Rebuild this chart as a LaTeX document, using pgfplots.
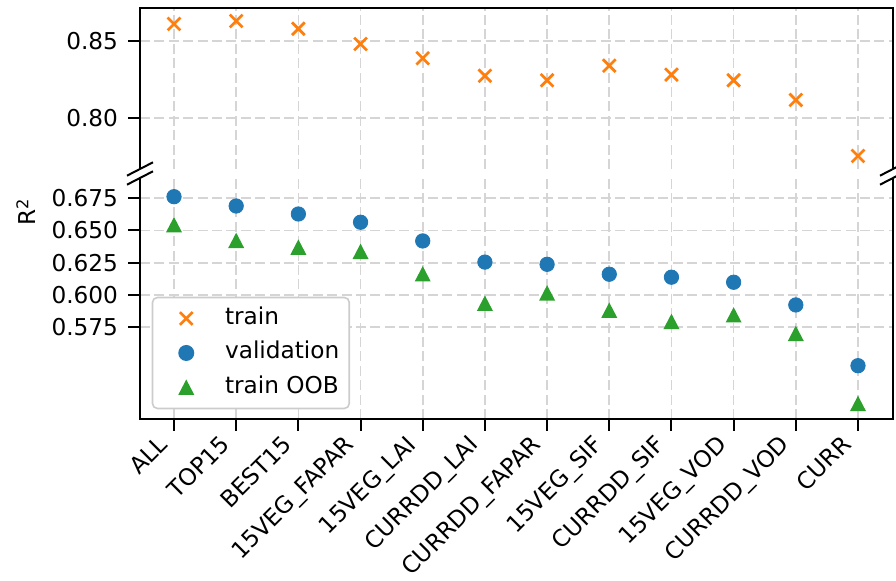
\documentclass[border=0pt]{standalone}
\usepackage{fontspec}
\setmainfont{DejaVu Sans}[Scale=1.16]
\usepackage{pgfplots}
\usepackage{pgfplotstable}
\pgfplotsset{compat=1.18}
\definecolor{cOrange}{HTML}{FF7F0E}
\definecolor{cBlue}{HTML}{1F77B4}
\definecolor{cGreen}{HTML}{2CA02C}
\definecolor{gridc}{HTML}{D5D5D5}
\definecolor{legc}{HTML}{CCCCCC}
\pgfdeclareplotmark{mtri}{%
  \pgfpathmoveto{\pgfqpoint{0pt}{\pgfplotmarksize}}%
  \pgfpathlineto{\pgfqpoint{-\pgfplotmarksize}{-0.92\pgfplotmarksize}}%
  \pgfpathlineto{\pgfqpoint{\pgfplotmarksize}{-0.92\pgfplotmarksize}}%
  \pgfpathclose\pgfusepathqfill}

\pgfplotstableread{
x train val oob
0  0.8608 0.6762 0.6543
1  0.8627 0.6690 0.6421
2  0.8577 0.6628 0.6369
3  0.8479 0.6564 0.6336
4  0.8387 0.6419 0.6162
5  0.8274 0.6255 0.5934
6  0.8245 0.6238 0.6014
7  0.8339 0.6161 0.5880
8  0.8281 0.6138 0.5793
9  0.8245 0.6099 0.5844
10 0.8118 0.5923 0.5700
11 0.7757 0.5452 0.5157
}\data

\begin{document}
\begin{tikzpicture}
\pgfplotsset{common/.style={
  scale only axis, width=376.5pt,
  xmin=-0.547, xmax=11.563, xtick={0,...,11},
  grid=major,
  major grid style={gridc, line width=0.8pt, dash pattern=on 5pt off 2.2pt},
  axis line style={draw=none},
  tick align=outside, ytick pos=left,
  major tick length=6pt,
  every tick/.style={black, line width=1pt},
  yticklabel style={anchor=east, inner sep=0pt, xshift=-4.8pt},
  clip=false,
}}
% top axis
\begin{axis}[common, at={(70pt,206pt)}, anchor=south west, height=80.5pt,
  ymin=0.7673, ymax=0.8711, ytick={0.80,0.85}, yticklabels={0.80,0.85},
  xticklabels={}, xtick style={draw=none}]
\addplot[only marks, mark=x, mark size=4.5pt, mark options={line width=1.35pt}, cOrange] table[x=x,y=train]{\data};
\draw[black, line width=1pt] (rel axis cs:0,0) -- (rel axis cs:0,1) -- (rel axis cs:1,1) -- (rel axis cs:1,0);
\draw[black, line width=1pt] (rel axis cs:0,0) ++(-6.5pt,-3.35pt) -- ++(13pt,6.7pt);
\draw[black, line width=1pt] (rel axis cs:1,0) ++(-6.5pt,-3.35pt) -- ++(13pt,6.7pt);
\end{axis}
% bottom axis
\begin{axis}[common, at={(70pt,81pt)}, anchor=south west, height=120.5pt,
  ymin=0.5039, ymax=0.6907,
  ytick={0.575,0.600,0.625,0.650,0.675},
  yticklabels={0.575,0.600,0.625,0.650,0.675},
  xtick pos=left,
  xticklabels={ALL,TOP15,BEST15,15VEG\_FAPAR,15VEG\_LAI,CURRDD\_LAI,CURRDD\_FAPAR,15VEG\_SIF,CURRDD\_SIF,15VEG\_VOD,CURRDD\_VOD,CURR},
  xticklabel style={rotate=45, anchor=north east, inner sep=0pt, text height=0.76em, text depth=0.21em, xshift=-7pt, yshift=5.5pt},
  legend cell align=left,
  legend style={at={(0.0155,0.5075)}, anchor=north west, draw=legc, line width=0.8pt,
    rounded corners=2.5pt, fill=white,
    inner xsep=5pt, inner ysep=5pt, row sep=6.25pt,
    nodes={inner sep=0pt, text height=8.5pt, text depth=2.5pt}},
  legend image code/.code={\path (0pt,0pt) (22pt,0pt); \draw[#1] plot coordinates {(11.5pt,0pt)};},
  ]
\addlegendimage{only marks, mark=x, mark size=4.5pt, mark options={line width=1.35pt}, cOrange}
\addlegendentry{\hspace{8.5pt}train}
\addplot[only marks, mark=*, mark size=3.6pt, cBlue] table[x=x,y=val]{\data};
\addlegendentry{\hspace{8.5pt}validation}
\addplot[only marks, mark=mtri, mark size=4pt, cGreen] table[x=x,y=oob]{\data};
\addlegendentry{\hspace{8.5pt}train OOB}
\draw[black, line width=1pt] (rel axis cs:0,1) -- (rel axis cs:0,0) -- (rel axis cs:1,0) -- (rel axis cs:1,1);
\draw[black, line width=1pt] (rel axis cs:0,1) ++(-6.5pt,-3.35pt) -- ++(13pt,6.7pt);
\draw[black, line width=1pt] (rel axis cs:1,1) ++(-6.5pt,-3.35pt) -- ++(13pt,6.7pt);
\end{axis}
\node[rotate=90, inner sep=0pt] at (13pt,184.5pt) {R\textsuperscript{2}};
\pgfresetboundingbox
\path[use as bounding box] (0pt,0pt) rectangle (448pt,290.5pt);
\end{tikzpicture}
\end{document}
